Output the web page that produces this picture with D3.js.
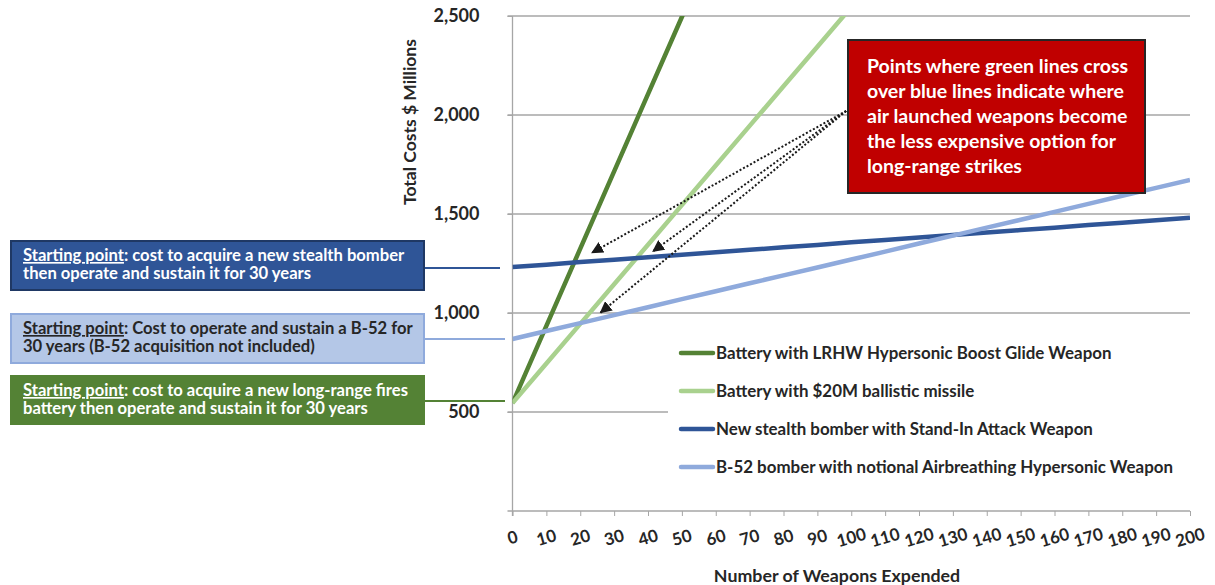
<!DOCTYPE html>
<html><head><meta charset="utf-8">
<script src="https://cdn.jsdelivr.net/npm/d3@7"></script>
<style>
body{margin:0;background:#fff;}
svg{display:block;font-family:Lato,"Open Sans",sans-serif;font-weight:bold;}
</style></head>
<body><svg id="c" width="1215" height="585"></svg>
<script>
// ---- data ----
const weapons = [0,10,20,30,40,50,60,70,80,90,100,110,120,130,140,150,160,170,180,190,200];
const xTicks = [0,10,20,30,40,50,60,70,80,90,100,110,120,130,140,150,160,170,180,190,200];
const yTicks = [500,1000,1500,2000,2500];
const lrhw = [545,935,1325,1715,2105,2495,2885];
const ballistic = [545,745,945,1145,1345,1545,1745,1945,2145,2345,2545];
const stealth = [1232,1244,1257,1269,1282,1294,1307,1319,1332,1344,1357,1369,1381,1394,1406,1419,1431,1444,1456,1469,1481];
const b52 = [869,909,949,989,1029,1070,1110,1150,1190,1230,1270,1310,1351,1391,1431,1471,1511,1551,1592,1632,1672];
const seriesNames = ["Battery with LRHW Hypersonic Boost Glide Weapon","Battery with $20M ballistic missile","New stealth bomber with Stand-In Attack Weapon","B-52 bomber with notional Airbreathing Hypersonic Weapon"];
const seriesValues = [lrhw, ballistic, stealth, b52];
const colors = ["#548235","#A9D18E","#2F5597","#8FAADC"];
const startNotes = [
  {lead:"Starting point", rest:": cost to acquire a new stealth bomber", line2:"then operate and sustain it for 30 years", series:2},
  {lead:"Starting point", rest:": Cost to operate and sustain a B-52 for", line2:"30 years (B-52 acquisition not included)", series:3},
  {lead:"Starting point", rest:": cost to acquire a new long-range fires", line2:"battery then operate and sustain it for 30 years", series:0}
];
const calloutLines = ["Points where green lines cross","over blue lines indicate where","air launched weapons become","the less expensive option for","long-range strikes"];
const arrowTargets = [[23.5,1305],[41.5,1312],[26,1002]];
const calloutOrigin = [98.5,2000];

// ---- layout ----
const svg = d3.select("#c");
const x = d3.scaleLinear().domain([0,200]).range([512.5,1190]);
const y = d3.scaleLinear().domain([0,2500]).range([511,16]);
const grid = "#a6a6a6", txt = "#262626";

svg.append("defs").append("clipPath").attr("id","plot")
  .append("rect").attr("x",x(0)).attr("y",y(2500)).attr("width",x(200)-x(0)).attr("height",y(0)-y(2500));
svg.select("defs").append("marker").attr("id","arr").attr("viewBox","0 0 10 10")
  .attr("refX",9).attr("refY",5).attr("markerWidth",12).attr("markerHeight",12)
  .attr("markerUnits","userSpaceOnUse").attr("orient","auto")
  .append("path").attr("d","M0,0L10,5L0,10Z").attr("fill","#1a1a1a");

// gridlines
svg.append("g").selectAll("line").data(yTicks).join("line")
  .attr("x1",x(0)-5).attr("x2",x(200)).attr("y1",d=>y(d)).attr("y2",d=>y(d))
  .attr("stroke",grid).attr("stroke-width",1.3);

// y axis
const ya = svg.append("g").attr("transform",`translate(${x(0)},0)`)
  .call(d3.axisLeft(y).tickValues(yTicks).tickSize(5).tickFormat(d3.format(",")).tickPadding(28));
ya.select(".domain").attr("stroke",grid).attr("stroke-width",1.3).attr("d",`M0,${y(2500)}V${y(0)+5}`);
ya.selectAll(".tick line").attr("stroke",grid);
ya.selectAll("text").attr("font-size",18).attr("fill",txt).attr("font-family","Lato").attr("font-weight","bold");

// x axis
const xa = svg.append("g").attr("transform",`translate(0,${y(0)})`)
  .call(d3.axisBottom(x).tickValues(xTicks).tickSize(5).tickFormat(d=>d));
xa.select(".domain").attr("stroke",grid).attr("stroke-width",1.3).attr("d",`M${x(0)-5},0H${x(200)}`);
xa.selectAll(".tick line").attr("stroke",grid);
xa.selectAll("text").attr("font-size",17).attr("fill",txt).attr("font-family","Lato").attr("font-weight","bold")
  .attr("y",0).attr("dy",0).attr("text-anchor","middle")
  .attr("transform","translate(0,28) rotate(-16)").attr("dominant-baseline","middle");

// axis titles
svg.append("text").attr("transform",`translate(416,122) rotate(-90)`).attr("text-anchor","middle")
  .attr("font-size",17.5).attr("fill",txt).text("Total Costs $ Millions");
svg.append("text").attr("x",837).attr("y",582).attr("text-anchor","middle")
  .attr("font-size",17.8).attr("fill",txt).text("Number of Weapons Expended");

// series lines
const line = d3.line().x((d,i)=>x(weapons[i])).y(d=>y(d));
svg.append("g").attr("clip-path","url(#plot)").selectAll("path").data(seriesValues).join("path")
  .attr("d",d=>line(d)).attr("fill","none").attr("stroke",(d,i)=>colors[i]).attr("stroke-width",4.5)
  .attr("stroke-linecap","butt");

// legend
const lg = svg.append("g");
lg.append("rect").attr("x",668).attr("y",333).attr("width",545).attr("height",154).attr("fill","#fff");
const rows = [353,391,429,467];
seriesNames.forEach((n,i)=>{
  lg.append("line").attr("x1",681).attr("x2",713).attr("y1",rows[i]).attr("y2",rows[i])
    .attr("stroke",colors[i]).attr("stroke-width",4.5).attr("stroke-linecap","round");
  lg.append("text").attr("x",716).attr("y",rows[i]).attr("dy","0.35em").attr("font-size",16.9)
    .attr("fill",txt).text(n);
});

// callout arrows
svg.append("g").selectAll("line").data(arrowTargets).join("line")
  .attr("x1",x(calloutOrigin[0])).attr("y1",y(calloutOrigin[1])-4)
  .attr("x2",d=>x(d[0])).attr("y2",d=>y(d[1]))
  .attr("stroke","#1a1a1a").attr("stroke-width",2).attr("stroke-dasharray","2,2")
  .attr("marker-end","url(#arr)");

// red callout box
svg.append("rect").attr("x",848).attr("y",40).attr("width",297).attr("height",153)
  .attr("fill","#C00000").attr("stroke","#262626").attr("stroke-width",2);
svg.append("g").selectAll("text").data(calloutLines).join("text")
  .attr("x",867).attr("y",(d,i)=>73+i*25).attr("font-size",19.5).attr("fill","#fff").text(d=>d);

// starting point boxes
const boxes = [
  {y:241,h:49,fill:"#2F5597",stroke:"#1F3864",tc:"#fff",cy:268,cx2:500},
  {y:314,h:49,fill:"#B4C7E7",stroke:"#8FAADC",tc:"#262626",cy:339,cx2:505},
  {y:376,h:48,fill:"#548235",stroke:"#548235",tc:"#fff",cy:401,cx2:505}
];
startNotes.forEach((s,i)=>{
  const b = boxes[i];
  svg.append("line").attr("x1",424).attr("x2",b.cx2).attr("y1",b.cy).attr("y2",b.cy)
    .attr("stroke",colors[s.series]).attr("stroke-width",2);
  svg.append("rect").attr("x",11).attr("y",b.y).attr("width",413).attr("height",b.h)
    .attr("fill",b.fill).attr("stroke",b.stroke).attr("stroke-width",2);
  const t = svg.append("text").attr("x",23).attr("y",b.y+20).attr("font-size",16.6).attr("fill",b.tc);
  t.append("tspan").attr("text-decoration","underline").text(s.lead);
  t.append("tspan").text(s.rest);
  svg.append("text").attr("x",23).attr("y",b.y+38).attr("font-size",16.6).attr("fill",b.tc).text(s.line2);
});
</script></body></html>
